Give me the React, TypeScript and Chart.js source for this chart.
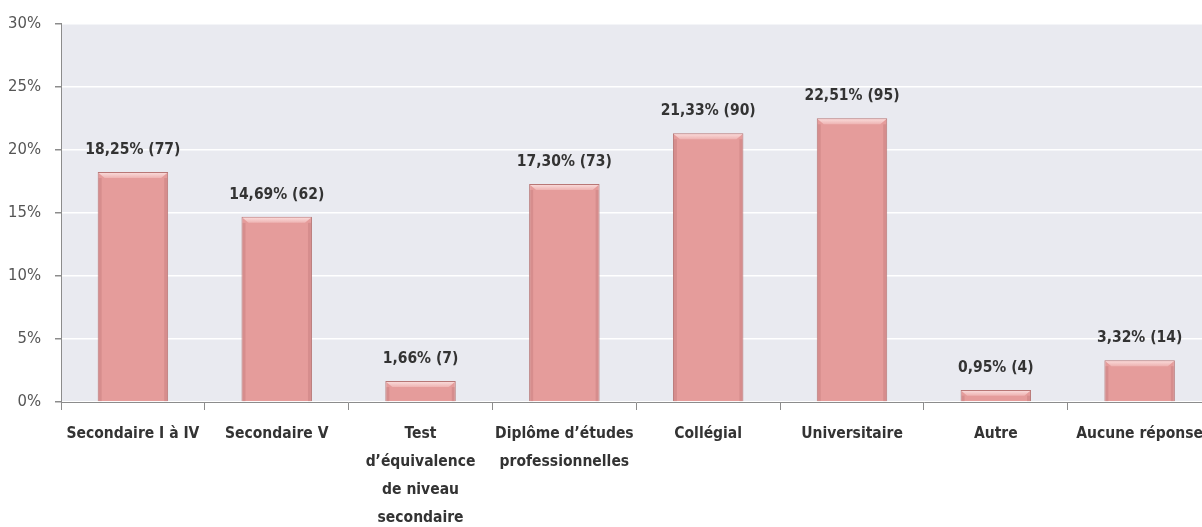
import React, { useEffect, useRef } from "react";
import { Chart, registerables } from "chart.js";

Chart.register(...registerables);

const categories: (string | string[])[] = [
  "Secondaire I à IV",
  "Secondaire V",
  ["Test", "d’équivalence", "de niveau", "secondaire"],
  ["Diplôme d’études", "professionnelles"],
  "Collégial",
  "Universitaire",
  "Autre",
  "Aucune réponse",
];
const percentages = [18.25, 14.69, 1.66, 17.3, 21.33, 22.51, 0.95, 3.32];
const counts = [77, 62, 7, 73, 90, 95, 4, 14];
const yTicks = [0, 5, 10, 15, 20, 25, 30];

const FONT = "'DejaVu Sans Condensed', 'Roboto', sans-serif";

const bgPlugin = {
  id: "plotBg",
  beforeDraw(chart: any) {
    const { ctx, chartArea } = chart;
    ctx.save();
    ctx.fillStyle = "#e9eaf0";
    ctx.fillRect(chartArea.left, chartArea.top, chartArea.right - chartArea.left, chartArea.bottom - chartArea.top);
    ctx.restore();
  },
};

const bevelPlugin = {
  id: "bevel",
  afterDatasetsDraw(chart: any) {
    const { ctx } = chart;
    const meta = chart.getDatasetMeta(0);
    ctx.save();
    meta.data.forEach((bar: any) => {
      const { x, y, base, width } = bar.getProps(["x", "y", "base", "width"], true);
      const l = x - width / 2;
      const r = x + width / 2;
      const h = Math.min(6, (base - y) / 2);
      const g = ctx.createLinearGradient(0, y, 0, y + h);
      g.addColorStop(0, "#fbe0df");
      g.addColorStop(1, "#eeb3b2");
      ctx.fillStyle = g;
      ctx.beginPath();
      ctx.moveTo(l + 1, y + 1);
      ctx.lineTo(r - 1, y + 1);
      ctx.lineTo(r - 1 - h, y + h);
      ctx.lineTo(l + 1 + h, y + h);
      ctx.closePath();
      ctx.fill();
      ctx.fillStyle = "rgba(150,80,80,0.18)";
      ctx.fillRect(r - 4, y + h, 3, base - y - h);
      ctx.fillRect(l + 1, y + h, 3, base - y - h);
    });
    ctx.restore();
  },
};

const labelPlugin = {
  id: "valueLabels",
  afterDatasetsDraw(chart: any) {
    const { ctx } = chart;
    const meta = chart.getDatasetMeta(0);
    ctx.save();
    ctx.font = `bold 15.5px ${FONT}`;
    ctx.fillStyle = "#333333";
    ctx.textAlign = "center";
    ctx.textBaseline = "middle";
    meta.data.forEach((bar: any, i: number) => {
      const txt = `${percentages[i].toFixed(2).replace(".", ",")}% (${counts[i]})`;
      ctx.fillText(txt, bar.x, bar.y - 22);
    });
    ctx.restore();
  },
};

export default function App() {
  const ref = useRef<HTMLCanvasElement | null>(null);
  useEffect(() => {
    document.body.style.margin = "0";
    const chart = new Chart(ref.current!, {
      type: "bar",
      data: {
        labels: categories,
        datasets: [
          {
            data: percentages,
            backgroundColor: "#e59c9b",
            borderColor: "#b87776",
            borderWidth: 1,
            barPercentage: 0.49,
            categoryPercentage: 1,
          },
        ],
      },
      options: {
        animation: false,
        responsive: false,
        layout: { padding: { top: 23, right: 0, left: 0, bottom: 0 } },
        plugins: { legend: { display: false }, tooltip: { enabled: false } },
        scales: {
          x: {
            grid: { offset: true, drawOnChartArea: false, tickLength: 8, color: "#8c8c8c" },
            border: { color: "#8c8c8c" },
            ticks: {
              color: "#333333",
              font: { family: FONT, size: 15.5, weight: "bold", lineHeight: 1.8 },
              padding: 10,
              maxRotation: 0,
              autoSkip: false,
            },
            afterFit(scale: any) {
              scale.height = 125;
            },
          },
          y: {
            min: 0,
            max: 30,
            afterBuildTicks(scale: any) {
              scale.ticks = yTicks.map((v) => ({ value: v }));
            },
            grid: { color: "#ffffff", lineWidth: 1.5, tickLength: 6, tickColor: "#8c8c8c" },
            border: { color: "#8c8c8c" },
            ticks: {
              color: "#555555",
              font: { family: FONT, size: 16.5 },
              padding: 14,
              callback: (v: any) => `${v}%`,
            },
            afterFit(scale: any) {
              scale.width = 61;
            },
          },
        },
      },
      plugins: [bgPlugin, bevelPlugin, labelPlugin],
    });
    return () => chart.destroy();
  }, []);
  return (
    <div style={{ width: 1202, height: 527, overflow: "hidden", background: "#fff" }}>
      <canvas ref={ref} width={1213} height={527} style={{ display: "block" }} />
    </div>
  );
}
